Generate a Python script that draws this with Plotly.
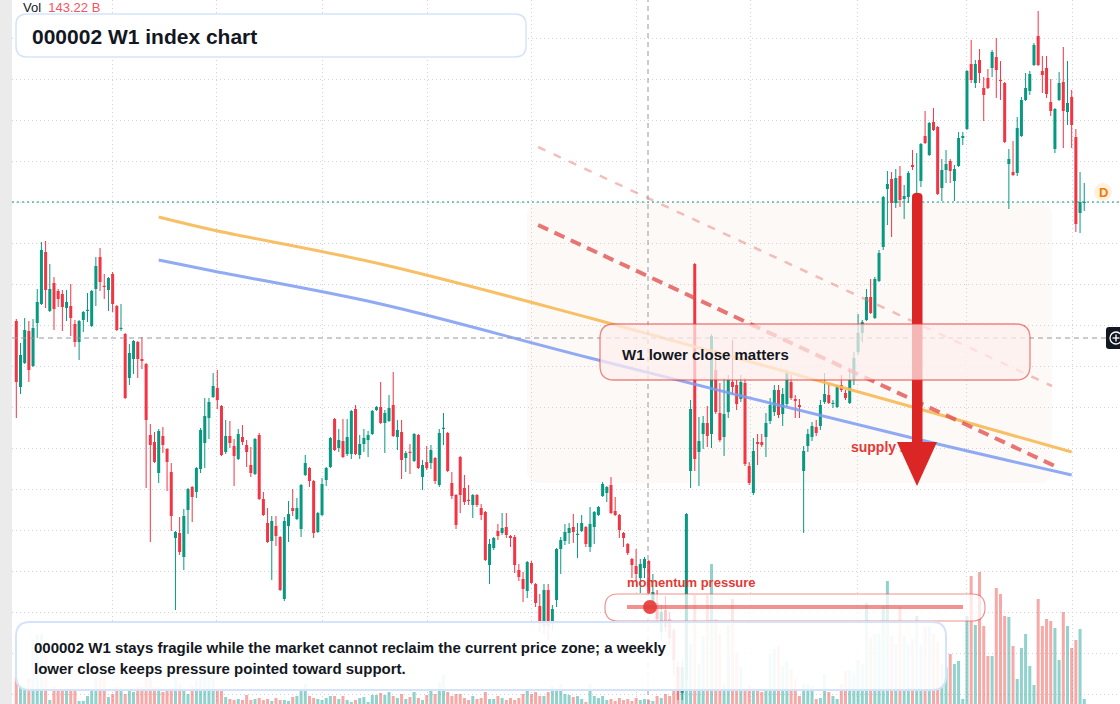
import plotly.graph_objects as go

# ---------------- data (weekly candles) ----------------
week = list(range(256))

open_ = [679, 613, 637, 669, 634, 677, 696, 748, 689, 717,
         709, 706, 692, 694, 676, 658, 680, 689, 674, 711,
         743, 714, 710, 726, 694, 671, 666, 622, 641, 658,
         641, 636, 565, 558, 527, 564, 551, 528, 462, 467,
         443, 490, 513, 508, 531, 557, 582, 603, 612, 594,
         548, 564, 554, 541, 563, 555, 535, 526, 565, 501,
         477, 459, 474, 463, 401, 474, 492, 481, 471, 525,
         532, 519, 468, 485, 520, 533, 581, 552, 559, 546,
         546, 591, 545, 556, 560, 566, 590, 593, 577, 579,
         595, 563, 568, 542, 548, 539, 565, 523, 538, 537,
         542, 515, 571, 567, 517, 505, 543, 512, 500, 495,
         505, 492, 488, 435, 452, 469, 467, 473, 464, 463,
         430, 421, 409, 437, 416, 394, 374, 410, 376, 400,
         451, 459, 467, 473, 465, 469, 473, 453, 473, 485,
         504, 507, 515, 489, 485, 467, 456, 441, 434, 422,
         432, 439, 396, 397, 368, 390, 381, 370, 333, 307,
         320, 529, 736, 548, 566, 577, 566, 630, 587, 563,
         588, 618, 615, 601, 617, 534, 507, 558, 558, 563,
         579, 588, 610, 586, 596, 618, 601, 595, 529, 554,
         563, 573, 574, 598, 605, 596, 593, 615, 607, 597,
         620, 648, 667, 680, 703, 682, 719, 753, 811, 821,
         797, 824, 801, 803, 835, 806, 819, 864, 845, 878,
         873, 812, 830, 839, 819, 834, 862, 871, 936, 917,
         940, 912, 922, 932, 943, 920, 917, 836, 828, 827,
         864, 900, 909, 935, 964, 929, 932, 898, 851, 900,
         918, 888, 903, 863, 787, 797]

close = [618, 645, 670, 630, 672, 698, 750, 710, 711, 691,
         701, 693, 698, 682, 658, 679, 688, 690, 709, 734,
         718, 713, 722, 696, 670, 672, 602, 647, 659, 641,
         639, 580, 555, 538, 569, 555, 538, 484, 468, 448,
         484, 511, 503, 532, 570, 584, 598, 614, 600, 545,
         564, 557, 544, 566, 558, 548, 527, 561, 501, 485,
         458, 479, 464, 410, 479, 486, 489, 492, 515, 537,
         519, 467, 487, 516, 532, 562, 550, 560, 543, 563,
         589, 546, 556, 562, 565, 589, 593, 577, 587, 592,
         564, 570, 540, 547, 547, 566, 532, 535, 532, 550,
         519, 567, 572, 529, 504, 475, 505, 498, 499, 505,
         495, 485, 440, 456, 462, 464, 472, 465, 462, 435,
         423, 411, 438, 417, 397, 376, 410, 374, 391, 451,
         460, 468, 472, 468, 466, 477, 456, 476, 488, 493,
         516, 513, 487, 485, 470, 462, 447, 435, 426, 436,
         441, 407, 408, 381, 388, 373, 362, 340, 309, 333,
         486, 591, 541, 559, 577, 564, 664, 588, 560, 586,
         620, 613, 596, 618, 536, 517, 549, 556, 555, 577,
         595, 610, 585, 606, 627, 602, 599, 593, 549, 566,
         574, 567, 595, 606, 597, 597, 613, 610, 602, 620,
         642, 667, 678, 703, 687, 721, 747, 803, 816, 797,
         822, 800, 804, 827, 833, 807, 856, 857, 877, 870,
         806, 830, 836, 829, 831, 862, 864, 929, 920, 936,
         927, 905, 912, 948, 930, 919, 858, 841, 825, 872,
         900, 912, 926, 955, 935, 925, 906, 889, 891, 917,
         889, 897, 875, 776, 798, 798]

high = [681, 657, 682, 679, 681, 711, 758, 759, 736, 723,
        711, 710, 710, 716, 680, 680, 689, 707, 710, 743,
        752, 726, 723, 728, 695, 696, 667, 656, 660, 659,
        663, 637, 576, 568, 571, 573, 552, 537, 469, 483,
        491, 512, 514, 533, 572, 602, 602, 627, 630, 595,
        580, 579, 561, 571, 575, 560, 553, 562, 567, 508,
        492, 484, 484, 464, 483, 499, 511, 502, 516, 545,
        533, 520, 488, 522, 533, 563, 582, 571, 581, 581,
        590, 595, 565, 571, 569, 590, 594, 618, 590, 605,
        628, 580, 580, 549, 556, 567, 566, 540, 554, 555,
        543, 571, 587, 568, 528, 506, 544, 525, 515, 506,
        506, 496, 489, 461, 463, 476, 487, 487, 465, 465,
        436, 428, 439, 439, 417, 406, 416, 416, 395, 452,
        463, 476, 477, 486, 477, 485, 474, 493, 489, 494,
        518, 514, 523, 503, 486, 468, 457, 442, 451, 441,
        443, 440, 426, 410, 395, 404, 388, 372, 338, 340,
        487, 600, 737, 583, 584, 594, 666, 650, 617, 622,
        625, 660, 620, 625, 622, 538, 562, 566, 566, 587,
        602, 615, 615, 612, 630, 625, 605, 601, 554, 571,
        578, 580, 600, 627, 617, 600, 615, 625, 610, 630,
        648, 686, 680, 711, 721, 723, 750, 804, 829, 828,
        831, 834, 815, 829, 850, 847, 857, 889, 878, 892,
        874, 841, 850, 841, 835, 868, 868, 930, 960, 940,
        951, 923, 931, 950, 962, 939, 918, 851, 859, 883,
        903, 927, 929, 957, 989, 944, 944, 921, 892, 928,
        953, 939, 910, 871, 828, 817]

low = [582, 606, 636, 618, 633, 662, 695, 692, 688, 670,
       693, 669, 679, 664, 653, 640, 668, 678, 673, 694,
       709, 701, 689, 688, 669, 669, 601, 615, 626, 622,
       631, 512, 458, 537, 517, 547, 509, 469, 390, 445,
       430, 466, 478, 502, 527, 532, 561, 602, 591, 544,
       546, 552, 514, 540, 555, 533, 523, 525, 500, 484,
       457, 420, 454, 409, 399, 458, 484, 480, 463, 524,
       513, 462, 467, 484, 514, 532, 549, 548, 542, 544,
       541, 545, 541, 548, 543, 565, 589, 576, 547, 578,
       563, 550, 521, 528, 526, 538, 531, 510, 530, 531,
       516, 513, 555, 528, 501, 471, 487, 495, 495, 482,
       493, 480, 439, 416, 450, 460, 465, 462, 453, 427,
       419, 398, 402, 416, 393, 368, 366, 360, 370, 393,
       426, 455, 456, 457, 442, 468, 453, 448, 456, 484,
       503, 498, 486, 484, 462, 453, 445, 422, 420, 407,
       422, 406, 394, 378, 360, 368, 355, 325, 300, 300,
       310, 512, 529, 514, 551, 553, 552, 586, 558, 544,
       582, 605, 590, 598, 534, 515, 505, 535, 553, 543,
       576, 584, 582, 574, 593, 600, 582, 582, 467, 548,
       559, 564, 570, 596, 596, 592, 592, 608, 600, 596,
       615, 645, 658, 679, 686, 681, 718, 750, 775, 763,
       792, 793, 781, 797, 830, 800, 813, 856, 844, 869,
       805, 799, 817, 817, 799, 833, 855, 870, 917, 912,
       917, 879, 911, 923, 902, 900, 857, 791, 824, 824,
       863, 899, 905, 934, 934, 907, 902, 884, 847, 899,
       852, 875, 852, 768, 767, 789]

volume_b = [27, 18, 17, 26, 64, 70, 70, 64, 4, 17,
            15, 14, 13, 14, 14, 3, 3, 8, 13, 27,
            26, 27, 7, 10, 17, 13, 10, 14, 12, 17,
            17, 27, 27, 17, 17, 12, 14, 14, 27, 20,
            14, 10, 18, 25, 29, 36, 27, 25, 14, 14,
            7, 5, 4, 5, 4, 9, 4, 5, 6, 4,
            5, 3, 6, 4, 4, 3, 7, 8, 14, 20,
            8, 6, 5, 4, 6, 8, 8, 5, 8, 4,
            2, 4, 6, 7, 2, 9, 9, 11, 9, 12,
            8, 6, 10, 5, 7, 12, 6, 4, 9, 14,
            10, 22, 29, 12, 8, 10, 10, 6, 4, 8,
            5, 6, 12, 5, 5, 8, 6, 4, 6, 4,
            6, 10, 14, 10, 12, 8, 8, 12, 18, 15,
            20, 10, 9, 7, 8, 5, 2, 20, 8, 6,
            8, 4, 5, 3, 6, 4, 5, 3, 6, 4,
            5, 4, 3, 8, 6, 10, 8, 14, 18, 20,
            45, 60, 109, 40, 68, 109, 140, 85, 70, 20,
            79, 105, 51, 37, 14, 18, 16, 14, 12, 15,
            50, 55, 58, 38, 42, 35, 25, 8, 20, 20,
            18, 5, 6, 30, 12, 8, 5, 20, 33, 34,
            31, 44, 40, 101, 66, 70, 70, 98, 123, 68,
            60, 97, 68, 60, 65, 88, 59, 78, 78, 70,
            62, 40, 37, 50, 40, 43, 5, 88, 128, 79,
            132, 78, 48, 48, 116, 110, 88, 87, 58, 25,
            56, 70, 38, 19, 105, 78, 85, 83, 76, 44,
            92, 78, 56, 64, 75, 5]

# two moving-average style curves (sampled points)
ma_week = [34, 47, 87, 137, 214, 252]
ma_orange = [783, 770, 736, 682, 593, 548]
ma_blue = [740, 729, 696, 642, 562, 525]

# two drawn trend lines
trend_week = [124.6, 248.0]
trend_strong = [775, 534]
trend_light_week = [124.6, 247.3]
trend_light = [853, 614]

last_price = 798
crosshair_price = 662
grid_week = [22.85, 47.9, 73.0, 98.1, 123.1, 148.2, 175.2, 200.9, 227.0, 252.1]
grid_price = [962, 921, 880, 839, 798, 757, 716, 675, 634, 593, 552, 511, 470, 429, 388, 347, 306]

# ---------------- figure ----------------
W, H = 1120, 704
FIRST_PX, STEP_PX = 16.3, 4.188
UP, DOWN = "#089981", "#f23645"
VUP, VDOWN = "rgba(38,166,154,0.5)", "rgba(239,83,80,0.5)"
FONT = "Liberation Sans, Arial, sans-serif"

is_up = [c >= o for o, c in zip(open_, close)]
body_base = [min(o, c) for o, c in zip(open_, close)]
body_len = [max(abs(c - o), 1.2) for o, c in zip(open_, close)]

fig = go.Figure()

fig.add_trace(go.Bar(x=week, y=volume_b, yaxis="y2", width=0.72,
                     marker=dict(color=[VUP if u else VDOWN for u in is_up], line=dict(width=0)),
                     hoverinfo="skip"))

for flag, col in ((True, UP), (False, DOWN)):
    xs, ys = [], []
    for i, u in enumerate(is_up):
        if u == flag:
            xs += [week[i], week[i], None]
            ys += [low[i], high[i], None]
    fig.add_trace(go.Scatter(x=xs, y=ys, mode="lines", line=dict(color=col, width=1),
                             hoverinfo="skip"))

fig.add_trace(go.Bar(x=week, y=body_len, base=body_base, width=0.72,
                     marker=dict(color=[UP if u else DOWN for u in is_up], line=dict(width=0)),
                     hoverinfo="skip"))

fig.add_trace(go.Scatter(x=ma_week, y=ma_orange, mode="lines", line=dict(color="rgba(247,185,85,0.9)", width=3, shape="spline"), hoverinfo="skip"))
fig.add_trace(go.Scatter(x=ma_week, y=ma_blue, mode="lines", line=dict(color="rgba(125,155,242,0.85)", width=3, shape="spline"), hoverinfo="skip"))
fig.add_trace(go.Scatter(x=trend_light_week, y=trend_light, mode="lines", line=dict(color="rgba(232,110,110,0.45)", width=2.5, dash="8px,9px"), hoverinfo="skip"))
fig.add_trace(go.Scatter(x=trend_week, y=trend_strong, mode="lines", line=dict(color="rgba(226,80,80,0.78)", width=4, dash="11px,7px"), hoverinfo="skip"))

fig.add_trace(go.Scatter(x=[199.3], y=[552], mode="text", text=["<b>supply zone</b>"],
                         textposition="middle right", textfont=dict(family=FONT, size=14, color="#e53935"),
                         hoverinfo="skip"))


def px(x):
    return x / W


def py(y):
    return 1 - y / H


def rrect(x0, y0, x1, y1, r):
    def p(x, y):
        return f"{px(x):.5f},{py(y):.5f}"
    return (f"M{p(x0 + r, y0)} L{p(x1 - r, y0)} Q{p(x1, y0)} {p(x1, y0 + r)} "
            f"L{p(x1, y1 - r)} Q{p(x1, y1)} {p(x1 - r, y1)} L{p(x0 + r, y1)} "
            f"Q{p(x0, y1)} {p(x0, y1 - r)} L{p(x0, y0 + r)} Q{p(x0, y0)} {p(x0 + r, y0)} Z")


shapes = []
# faint zone
shapes.append(dict(type="path", path=rrect(527, 203, 1052, 483, 14), xref="paper", yref="paper",
                   fillcolor="rgba(238,220,200,0.16)", line=dict(width=0), layer="below"))
# left strip
shapes.append(dict(type="rect", xref="paper", yref="paper", x0=0, x1=px(12), y0=0, y1=1,
                   fillcolor="#ebebeb", line=dict(width=0), layer="above"))
# last price line
shapes.append(dict(type="line", xref="paper", yref="y", x0=px(12), x1=1, y0=last_price, y1=last_price,
                   line=dict(color="#089981", width=1, dash="2px,3px"), layer="above"))
# crosshair
shapes.append(dict(type="line", xref="paper", yref="y", x0=px(12), x1=px(1106), y0=crosshair_price, y1=crosshair_price,
                   line=dict(color="#9598a1", width=1, dash="5px,4px"), layer="above"))
shapes.append(dict(type="line", xref="paper", yref="paper", x0=px(648), x1=px(648), y0=0, y1=1,
                   line=dict(color="#9598a1", width=1, dash="5px,4px"), layer="above"))
# arrow
shapes.append(dict(type="path", path=rrect(912, 193, 922.5, 446, 4), xref="paper", yref="paper",
                   fillcolor="#dc2626", line=dict(width=0), layer="above"))
shapes.append(dict(type="path", xref="paper", yref="paper",
                   path=f"M{px(897)},{py(442)} L{px(937)},{py(442)} L{px(917)},{py(486)} Z",
                   fillcolor="#dc2626", line=dict(width=0), layer="above"))
# annotation box
shapes.append(dict(type="path", path=rrect(600, 324, 1030, 380, 14), xref="paper", yref="paper",
                   fillcolor="rgba(255,238,238,0.72)", line=dict(color="rgba(229,57,53,0.6)", width=1.3), layer="above"))
# momentum box
shapes.append(dict(type="path", path=rrect(605, 594, 985, 621, 13), xref="paper", yref="paper",
                   fillcolor="rgba(255,255,255,0.72)", line=dict(color="rgba(229,57,53,0.55)", width=1.2), layer="above"))
shapes.append(dict(type="line", xref="paper", yref="paper", x0=px(627), x1=px(963), y0=py(607), y1=py(607),
                   line=dict(color="rgba(229,57,53,0.55)", width=4), layer="above"))
shapes.append(dict(type="circle", xref="paper", yref="paper", x0=px(643), x1=px(657), y0=py(614), y1=py(600),
                   fillcolor="rgba(229,57,53,0.9)", line=dict(width=0), layer="above"))
# bottom text box
shapes.append(dict(type="path", path=rrect(16, 622, 946, 690, 14), xref="paper", yref="paper",
                   fillcolor="rgba(255,255,255,0.9)", line=dict(color="#d5e3fa", width=2), layer="above"))
# title box
shapes.append(dict(type="path", path=rrect(16, 14, 526, 57, 11), xref="paper", yref="paper",
                   fillcolor="#ffffff", line=dict(color="#d5e3fa", width=1.5), layer="above"))
# D badge
shapes.append(dict(type="circle", xref="paper", yref="paper", x0=px(1094), x1=px(1112), y0=py(201), y1=py(183),
                   fillcolor="#fff1de", line=dict(width=0), layer="above"))
# right crosshair marker
shapes.append(dict(type="path", path=rrect(1106, 327, 1124, 349, 3), xref="paper", yref="paper",
                   fillcolor="#131722", line=dict(width=0), layer="above"))
shapes.append(dict(type="circle", xref="paper", yref="paper", x0=px(1110), x1=px(1122), y0=py(344), y1=py(332),
                   line=dict(color="#ffffff", width=1.3), layer="above"))
shapes.append(dict(type="line", xref="paper", yref="paper", x0=px(1112.5), x1=px(1119.5), y0=py(338), y1=py(338),
                   line=dict(color="#ffffff", width=1.3), layer="above"))
shapes.append(dict(type="line", xref="paper", yref="paper", x0=px(1116), x1=px(1116), y0=py(334.5), y1=py(341.5),
                   line=dict(color="#ffffff", width=1.3), layer="above"))

annotations = [
    dict(x=px(21), y=py(8), text='Vol  <span style="color:#f7525f">143.22 B</span>',
         font=dict(family=FONT, size=13, color="#131722")),
    dict(x=px(30), y=py(36), text="<b>000002 W1 index chart</b>",
         font=dict(family=FONT, size=21, color="#131722")),
    dict(x=px(32), y=py(647), text="<b>000002 W1 stays fragile while the market cannot reclaim the current price zone; a weekly</b>",
         font=dict(family=FONT, size=15, color="#131722")),
    dict(x=px(32), y=py(668), text="<b>lower close keeps pressure pointed toward support.</b>",
         font=dict(family=FONT, size=15, color="#131722")),
    dict(x=px(620), y=py(354), text="<b>W1 lower close matters</b>",
         font=dict(family=FONT, size=15, color="#131722")),
    dict(x=px(625), y=py(582), text="<b>momentum pressure</b>",
         font=dict(family=FONT, size=13, color="#e53935")),
]
for a in annotations:
    a.update(xref="paper", yref="paper", xanchor="left", yanchor="middle", showarrow=False)
annotations.append(dict(x=px(1103), y=py(192), xref="paper", yref="paper", xanchor="center", yanchor="middle",
                        showarrow=False, text="<b>D</b>", font=dict(family=FONT, size=13, color="#f57c00")))

fig.update_layout(
    width=W, height=H, autosize=False,
    margin=dict(l=0, r=0, t=0, b=0, pad=0),
    paper_bgcolor="#ffffff", plot_bgcolor="#ffffff",
    showlegend=False, barmode="overlay", hovermode=False,
    xaxis=dict(range=[(0 - FIRST_PX) / STEP_PX, (W - FIRST_PX) / STEP_PX], tickmode="array", tickvals=grid_week,
               showticklabels=False, ticks="", showgrid=True, gridcolor="#cfd2d9", griddash="1px,3px", gridwidth=1,
               zeroline=False, showline=False, fixedrange=True),
    yaxis=dict(range=[296, 1000], tickmode="array", tickvals=grid_price, showticklabels=False, ticks="",
               showgrid=True, gridcolor="#cfd2d9", griddash="1px,3px", gridwidth=1,
               zeroline=False, showline=False, fixedrange=True),
    yaxis2=dict(range=[0, 704], overlaying="y", visible=False, fixedrange=True),
    shapes=shapes, annotations=annotations,
)

fig.write_html("out.html", include_plotlyjs=True, full_html=True,
               config={"displayModeBar": False, "staticPlot": True},
               post_script="document.body.style.margin='0';document.body.style.overflow='hidden';")
